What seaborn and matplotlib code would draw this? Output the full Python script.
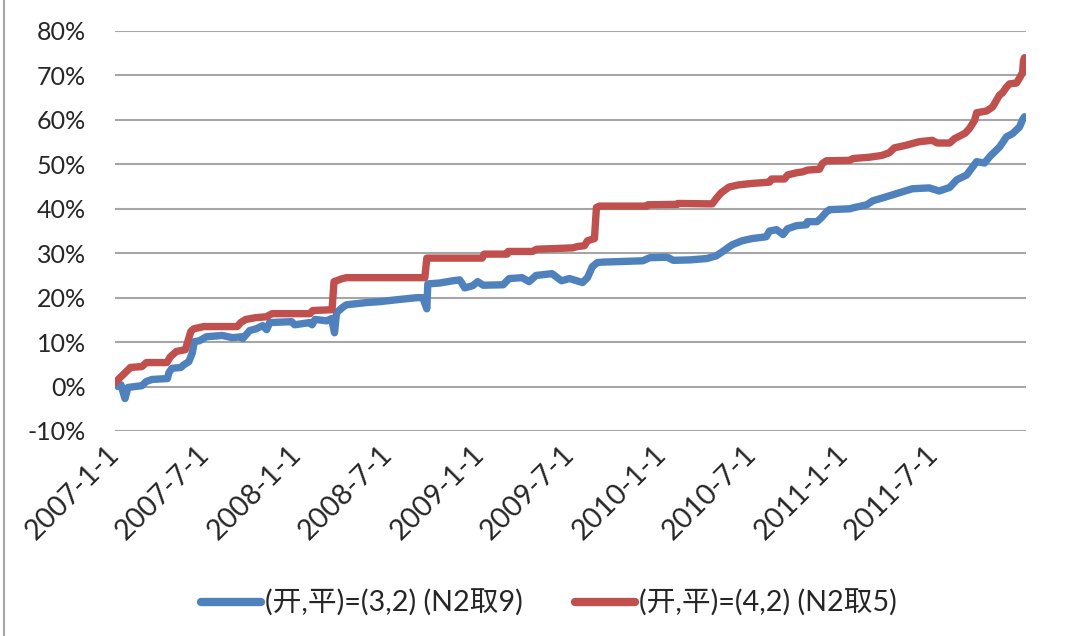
import matplotlib
matplotlib.use("Agg")
import matplotlib.pyplot as plt
from matplotlib.lines import Line2D
import seaborn as sns
import pandas as pd

series_names = ["(开,平)=(3,2) (N2取9)", "(开,平)=(4,2) (N2取5)"]
series_colors = ["#4F81BD", "#C0504D"]

blue_dates = [
    "2007-01-07", "2007-01-13", "2007-01-21", "2007-01-27", "2007-02-10", "2007-02-24",
    "2007-03-04", "2007-03-16", "2007-04-16", "2007-04-19", "2007-04-25", "2007-05-13",
    "2007-05-19", "2007-05-29", "2007-06-05", "2007-06-09", "2007-06-19", "2007-07-03",
    "2007-08-04", "2007-08-24", "2007-09-12", "2007-09-14", "2007-09-28", "2007-10-11",
    "2007-10-24", "2007-11-01", "2007-11-07", "2007-12-21", "2007-12-27", "2008-01-27",
    "2008-01-31", "2008-02-06", "2008-02-29", "2008-03-10", "2008-03-16", "2008-03-20",
    "2008-04-01", "2008-04-09", "2008-05-19", "2008-06-14", "2008-07-24", "2008-08-28",
    "2008-09-09", "2008-09-17", "2008-09-19", "2008-10-13", "2008-11-08", "2008-11-22",
    "2008-12-02", "2008-12-18", "2008-12-28", "2009-01-08", "2009-02-17", "2009-03-01",
    "2009-03-27", "2009-04-10", "2009-04-24", "2009-05-26", "2009-06-14", "2009-06-30",
    "2009-07-26", "2009-08-05", "2009-08-15", "2009-08-25", "2009-09-04", "2009-10-02",
    "2009-11-24", "2009-12-08", "2010-01-12", "2010-01-24", "2010-02-27", "2010-04-01",
    "2010-04-20", "2010-05-02", "2010-05-22", "2010-06-11", "2010-07-01", "2010-07-29",
    "2010-08-05", "2010-08-19", "2010-09-01", "2010-09-10", "2010-09-28", "2010-10-18",
    "2010-10-20", "2010-11-08", "2010-11-17", "2010-11-27", "2010-12-03", "2011-01-13",
    "2011-01-19", "2011-02-16", "2011-02-28", "2011-03-27", "2011-04-22", "2011-05-18",
    "2011-06-21", "2011-07-11", "2011-08-01", "2011-08-15", "2011-09-04", "2011-09-16",
    "2011-09-24", "2011-10-10", "2011-10-20", "2011-11-09", "2011-11-23", "2011-12-05",
    "2011-12-19", "2011-12-25", "2011-12-29",
]
blue_values = [
    0.0, 0.4, -2.7, -0.2, 0.0, 0.2,
    1.1, 1.6, 1.8, 3.1, 4.1, 4.3,
    4.9, 5.6, 7.6, 10.1, 10.3, 11.2,
    11.5, 11.0, 11.2, 10.8, 12.6, 13.0,
    13.7, 12.8, 14.4, 14.6, 13.9, 14.4,
    13.9, 15.1, 14.8, 15.3, 12.1, 16.6,
    17.8, 18.4, 18.9, 19.1, 19.6, 20.0,
    20.0, 17.5, 23.1, 23.3, 23.8, 24.0,
    22.2, 22.7, 23.6, 22.8, 22.9, 24.3,
    24.5, 23.6, 25.0, 25.4, 23.8, 24.3,
    23.4, 24.5, 27.0, 27.9, 28.0, 28.1,
    28.3, 29.0, 29.1, 28.4, 28.5, 28.8,
    29.4, 30.3, 31.9, 32.8, 33.3, 33.7,
    35.0, 35.3, 34.2, 35.5, 36.2, 36.4,
    37.1, 37.1, 38.0, 39.3, 39.8, 40.0,
    40.2, 40.9, 41.8, 42.7, 43.6, 44.5,
    44.7, 44.0, 44.8, 46.5, 47.6, 49.4,
    50.6, 50.3, 51.7, 53.9, 56.2, 56.9,
    58.4, 60.0, 60.7,
]

red_dates = [
    "2007-01-01", "2007-01-11", "2007-01-24", "2007-02-01", "2007-02-24", "2007-03-05",
    "2007-04-15", "2007-04-22", "2007-05-04", "2007-05-22", "2007-06-02", "2007-06-08",
    "2007-06-28", "2007-09-03", "2007-09-10", "2007-09-20", "2007-10-10", "2007-10-31",
    "2007-11-12", "2008-01-27", "2008-02-01", "2008-03-11", "2008-03-15", "2008-04-01",
    "2008-04-09", "2008-09-13", "2008-09-17", "2009-01-06", "2009-01-10", "2009-02-25",
    "2009-02-27", "2009-04-17", "2009-04-25", "2009-07-06", "2009-07-16", "2009-07-30",
    "2009-08-05", "2009-08-19", "2009-08-23", "2009-08-29", "2009-12-02", "2009-12-04",
    "2010-02-01", "2010-02-03", "2010-04-12", "2010-04-20", "2010-04-30", "2010-05-16",
    "2010-06-05", "2010-07-01", "2010-08-05", "2010-08-09", "2010-09-04", "2010-09-10",
    "2010-09-28", "2010-10-10", "2010-10-20", "2010-11-13", "2010-11-19", "2010-11-27",
    "2011-01-13", "2011-01-19", "2011-02-21", "2011-03-18", "2011-04-02", "2011-04-12",
    "2011-05-06", "2011-06-01", "2011-06-27", "2011-07-07", "2011-08-01", "2011-08-11",
    "2011-09-01", "2011-09-10", "2011-09-20", "2011-09-24", "2011-10-14", "2011-10-26",
    "2011-11-09", "2011-11-15", "2011-11-23", "2011-11-29", "2011-12-13", "2011-12-19",
    "2011-12-25", "2011-12-27", "2011-12-29",
]
red_values = [
    0.9, 2.0, 3.4, 4.3, 4.5, 5.4,
    5.4, 6.7, 7.9, 8.3, 12.4, 13.0,
    13.5, 13.5, 14.4, 15.1, 15.5, 15.7,
    16.4, 16.4, 17.1, 17.3, 23.6, 24.3,
    24.5, 24.5, 28.9, 28.9, 29.8, 29.8,
    30.4, 30.4, 30.9, 31.2, 31.5, 31.7,
    32.8, 33.3, 40.3, 40.6, 40.6, 40.9,
    41.0, 41.2, 41.1, 42.3, 43.6, 44.9,
    45.4, 45.7, 46.0, 46.7, 46.7, 47.6,
    48.1, 48.3, 48.7, 48.9, 50.2, 50.8,
    50.9, 51.3, 51.6, 52.0, 52.6, 53.7,
    54.3, 55.1, 55.4, 54.8, 54.8, 55.8,
    57.0, 58.1, 59.9, 61.6, 62.0, 62.9,
    65.6, 66.1, 67.4, 68.1, 68.3, 69.4,
    70.6, 73.3, 74.0,
]

x_tick_dates = ["2007-01-01", "2007-07-01", "2008-01-01", "2008-07-01", "2009-01-01",
                "2009-07-01", "2010-01-01", "2010-07-01", "2011-01-01", "2011-07-01"]
x_tick_labels = ["2007-1-1", "2007-7-1", "2008-1-1", "2008-7-1", "2009-1-1",
                 "2009-7-1", "2010-1-1", "2010-7-1", "2011-1-1", "2011-7-1"]
y_ticks = [-10, 0, 10, 20, 30, 40, 50, 60, 70, 80]
x_range = ["2007-01-01", "2012-01-01"]

sns.set_theme(style="white")
plt.rcParams["font.family"] = ["Lato", "Noto Sans CJK SC", "DejaVu Sans"]

df = pd.concat([
    pd.DataFrame({"date": pd.to_datetime(blue_dates), "value": blue_values, "series": series_names[0]}),
    pd.DataFrame({"date": pd.to_datetime(red_dates), "value": red_values, "series": series_names[1]}),
], ignore_index=True)

W, H = 1083, 636
fig = plt.figure(figsize=(W / 100, H / 100), dpi=100)
ax = fig.add_axes([115 / W, 1 - 431 / H, (1026 - 115) / W, (431 - 31) / H])

sns.lineplot(data=df, x="date", y="value", hue="series", hue_order=series_names,
             palette=series_colors, linewidth=5.3, estimator=None, sort=False, ax=ax,
             legend=True, solid_capstyle="round", solid_joinstyle="round")

ax.set_xlim(pd.Timestamp(x_range[0]), pd.Timestamp(x_range[1]))
ax.set_ylim(y_ticks[0], y_ticks[-1])
ax.set_yticks(y_ticks)
ax.set_yticklabels([f"{v}%" for v in y_ticks], fontsize=18)
ax.set_xticks(pd.to_datetime(x_tick_dates))
ax.set_xticklabels(x_tick_labels, fontsize=20.5, rotation=45, ha="right",
                   va="center", rotation_mode="anchor")
ax.tick_params(axis="y", length=0, pad=21)
ax.tick_params(axis="x", length=0, pad=14)
ax.set_xlabel("")
ax.set_ylabel("")
for s in ax.spines.values():
    s.set_visible(False)
ax.yaxis.grid(True, color="#A6A6A6", linewidth=1.5)
ax.xaxis.grid(False)
ax.set_axisbelow(True)

sns.move_legend(ax, "center", bbox_to_anchor=(0.507, 1 - 603 / H),
                bbox_transform=fig.transFigure, ncol=2, title=None, frameon=False,
                fontsize=20.7, handlelength=2.1, handletextpad=0.14, columnspacing=1.8)
for h in ax.get_legend().get_lines():
    h.set_linewidth(6)
    h.set_solid_capstyle("round")

fig.add_artist(Line2D([4 / W, 4 / W], [0, 1], transform=fig.transFigure,
                      color="#A6A6A6", linewidth=1.5))

fig.savefig("out.png", dpi=100)
